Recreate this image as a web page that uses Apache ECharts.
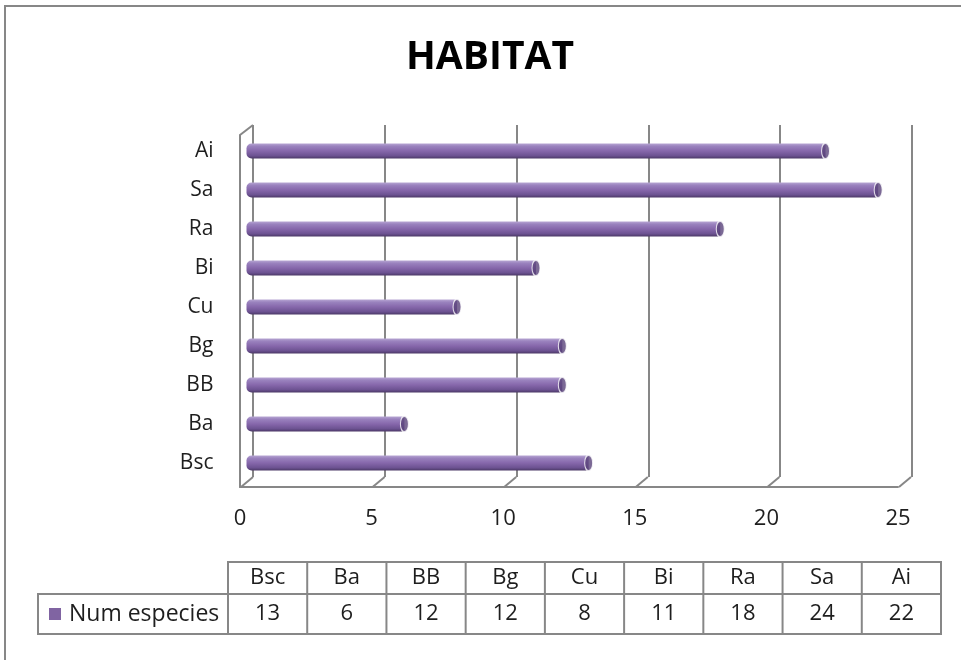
<!DOCTYPE html>
<html>
<head>
<meta charset="utf-8">
<title>HABITAT</title>
<script src="https://cdn.jsdelivr.net/npm/echarts@6/dist/echarts.min.js"></script>
<style>
  html, body { margin: 0; padding: 0; background: #fff; }
  #chart { width: 961px; height: 660px; }
</style>
</head>
<body>
<div id="chart"></div>
<script>
// Habitat categories (bottom to top on the chart, left to right in the table)
const categories = ['Bsc', 'Ba', 'BB', 'Bg', 'Cu', 'Bi', 'Ra', 'Sa', 'Ai'];
// Number of species recorded per habitat
const numEspecies = [13, 6, 12, 12, 8, 11, 18, 24, 22];
// Value axis ticks
const xTicks = [0, 5, 10, 15, 20, 25];
const seriesName = 'Num especies';

const FONT = '"Open Sans", "Noto Sans", sans-serif';
const PURPLE = '#8064a2';
const FRAME = '#878787';
const TEXT = '#1e1e1e';

// depth offset of the pseudo-3D box
const DEPTH_X = 13;
const DEPTH_Y = 10;

const chart = echarts.init(document.getElementById('chart'), null, { renderer: 'canvas' });

// ---- data table under the chart ----
const TABLE_LEFT = 228;
const TABLE_RIGHT = 941;
const COL_W = (TABLE_RIGHT - TABLE_LEFT) / categories.length;
const LABEL_LEFT = 38;
const ROW1_TOP = 562;
const ROW2_TOP = 594;
const ROW_BOTTOM = 634;
const TABLE_FONT = '22px ' + FONT;

const tableElements = [];
tableElements.push({
  type: 'rect',
  shape: { x: TABLE_LEFT, y: ROW1_TOP, width: TABLE_RIGHT - TABLE_LEFT, height: ROW2_TOP - ROW1_TOP },
  style: { fill: null, stroke: FRAME, lineWidth: 2 }
});
tableElements.push({
  type: 'rect',
  shape: { x: LABEL_LEFT, y: ROW2_TOP, width: TABLE_RIGHT - LABEL_LEFT, height: ROW_BOTTOM - ROW2_TOP },
  style: { fill: null, stroke: FRAME, lineWidth: 2 }
});
for (let i = 0; i <= categories.length - 1; i++) {
  const x = TABLE_LEFT + i * COL_W;
  tableElements.push({
    type: 'line',
    shape: { x1: x, y1: ROW1_TOP, x2: x, y2: ROW_BOTTOM },
    style: { stroke: FRAME, lineWidth: 2 }
  });
}
categories.forEach((c, i) => {
  const cx = TABLE_LEFT + (i + 0.5) * COL_W;
  tableElements.push({
    type: 'text',
    style: { text: c, x: cx, y: (ROW1_TOP + ROW2_TOP) / 2, align: 'center', verticalAlign: 'middle',
             font: TABLE_FONT, fill: TEXT }
  });
  tableElements.push({
    type: 'text',
    style: { text: String(numEspecies[i]), x: cx, y: (ROW2_TOP + ROW_BOTTOM) / 2, align: 'center', verticalAlign: 'middle',
             font: TABLE_FONT, fill: TEXT }
  });
});
tableElements.push({
  type: 'rect',
  shape: { x: 49, y: 608, width: 12, height: 12 },
  style: { fill: PURPLE }
});
tableElements.push({
  type: 'text',
  style: { text: seriesName, x: 69, y: (ROW2_TOP + ROW_BOTTOM) / 2, align: 'left', verticalAlign: 'middle',
           font: '23px ' + FONT, fill: TEXT }
});

// outer chart-area border
const borderElement = {
  type: 'rect',
  shape: { x: 5, y: 6, width: 1200, height: 900 },
  style: { fill: null, stroke: FRAME, lineWidth: 2 },
  z: -10
};

const cylinderFill = new echarts.graphic.LinearGradient(0, 0, 0, 1, [
  { offset: 0, color: '#b7a6d3' },
  { offset: 0.18, color: '#9a82be' },
  { offset: 0.5, color: '#8667ab' },
  { offset: 0.82, color: '#6c5291' },
  { offset: 1, color: '#4b3866' }
]);

const option = {
  animation: false,
  backgroundColor: '#ffffff',
  title: {
    text: 'HABITAT',
    left: 485,
    top: 33,
    textAlign: 'center',
    textStyle: { fontFamily: FONT, fontSize: 39, fontWeight: 'bold', color: '#000' }
  },
  grid: [
    // bars sit in the middle of the box depth
    { left: 246.5, right: 56.5, top: 131.5, bottom: 177.5 },
    // back wall
    { left: 240 + DEPTH_X, right: 63 - DEPTH_X - 1, top: 125, bottom: 173 + DEPTH_Y },
    // front edge / floor
    { left: 240, right: 63, top: 125 + DEPTH_Y, bottom: 173 }
  ],
  xAxis: [
    { gridIndex: 0, type: 'value', min: 0, max: 25, interval: 5, show: false },
    { gridIndex: 1, type: 'value', min: 0, max: 25, interval: 5,
      axisLine: { show: false }, axisTick: { show: false }, axisLabel: { show: false },
      splitLine: { show: true, lineStyle: { color: FRAME, width: 2 } } },
    { gridIndex: 2, type: 'value', min: 0, max: 25, interval: 5,
      axisLine: { show: true, lineStyle: { color: FRAME, width: 2 } },
      axisTick: { show: false },
      splitLine: { show: false },
      axisLabel: { show: true, margin: 21, fontFamily: FONT, fontSize: 22, color: TEXT } }
  ],
  yAxis: [
    { gridIndex: 0, type: 'category', data: categories,
      axisLine: { show: false }, axisTick: { show: false },
      axisLabel: { show: true, margin: 33, fontFamily: FONT, fontSize: 21, color: TEXT } },
    { gridIndex: 1, type: 'value', min: 0, max: 1, show: false },
    { gridIndex: 2, type: 'value', min: 0, max: 1,
      axisLine: { show: true, lineStyle: { color: FRAME, width: 2 } },
      axisTick: { show: false }, axisLabel: { show: false }, splitLine: { show: false } }
  ],
  series: [
    {
      // floor diagonals and the top edge of the side wall
      type: 'custom',
      xAxisIndex: 2,
      yAxisIndex: 2,
      z: 1,
      silent: true,
      data: xTicks.map(v => [v, 0]),
      renderItem: function (params, api) {
        const p = api.coord([api.value(0), 0]);
        const top = api.coord([api.value(0), 1]);
        const children = [{
          type: 'line',
          shape: { x1: p[0] + 1, y1: p[1], x2: p[0] + DEPTH_X, y2: p[1] - DEPTH_Y },
          style: { stroke: FRAME, lineWidth: 2 }
        }];
        if (api.value(0) === 0) {
          children.push({
            type: 'line',
            shape: { x1: top[0], y1: top[1], x2: top[0] + DEPTH_X, y2: top[1] - DEPTH_Y },
            style: { stroke: FRAME, lineWidth: 2 }
          });
        }
        return { type: 'group', children: children };
      }
    },
    {
      name: seriesName,
      type: 'bar',
      xAxisIndex: 0,
      yAxisIndex: 0,
      z: 3,
      data: numEspecies,
      barWidth: 15,
      itemStyle: { color: cylinderFill, borderRadius: [5, 0, 0, 5] }
    },
    {
      // end caps of the cylinders
      type: 'scatter',
      xAxisIndex: 0,
      yAxisIndex: 0,
      z: 4,
      data: numEspecies.map((v, i) => [v, categories[i]]),
      symbol: 'circle',
      symbolSize: [8, 16],
      itemStyle: { color: '#5a437a', borderColor: '#ffffff', borderWidth: 1.5 }
    }
  ],
  graphic: [borderElement].concat(tableElements)
};

chart.setOption(option);
</script>
</body>
</html>
